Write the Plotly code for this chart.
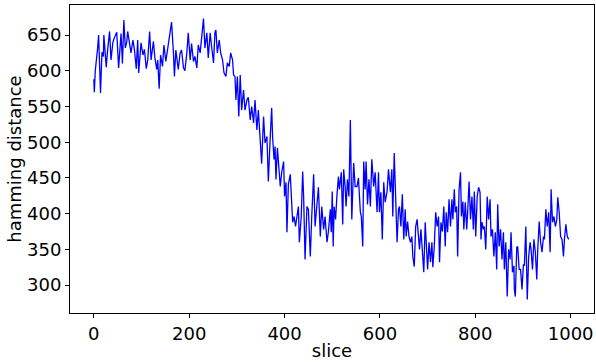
import plotly.graph_objects as go

slice_idx = [
    0, 1, 3, 6, 8, 10, 12, 14, 17, 20, 21, 24, 26, 29, 33, 36, 40, 43, 48, 52, 55, 57, 60, 63, 66, 69, 71, 75, 78, 82, 85, 89, 92, 94, 97, 99, 103, 106, 110, 113, 117, 120,
    125, 128, 132, 134, 137, 140, 144, 147, 151, 156, 160, 163, 167, 169, 172, 177, 181, 184, 188, 191, 195, 198, 202, 205, 209, 212, 216, 219, 223, 226, 230, 233, 237, 240, 244,
    247, 251, 254, 256, 259, 263, 266, 270, 273, 277, 280, 284, 287, 291, 293, 296, 298, 301, 304, 307, 310, 314, 317, 321, 324, 328, 331, 335, 338, 342, 345, 349, 352, 356, 359, 363, 366, 370, 373,
    375, 378, 380, 382, 385, 388, 391, 394, 398, 400, 403, 405, 408, 412, 414, 417, 420, 423, 426, 429, 431, 435, 438, 440, 443, 447, 450, 454, 457, 461, 464, 468, 471, 475, 478, 482, 485, 489, 492,
    496, 498, 500, 502, 504, 507, 510, 513, 515, 519, 522, 524, 527, 529, 532, 535, 538, 541, 545, 548, 552, 555, 559, 561, 564, 566, 569, 571, 574, 577, 580, 583, 587, 590, 594, 597, 599, 602, 605, 608, 611, 615, 618,
    622, 625, 627, 630, 633, 636, 639, 641, 644, 647, 650, 653, 655, 658, 661, 664, 667, 669, 672, 675, 678, 681, 683, 686, 689, 692, 695, 697, 700, 703, 706, 709, 711, 714, 717, 720, 723, 725, 728, 731, 734, 737, 739, 742, 745, 748, 751, 753,
    756, 758, 761, 763, 766, 769, 771, 774, 776, 779, 782, 784, 787, 790, 793, 796, 798, 801, 804, 807, 810, 812, 814, 817, 819, 822, 825, 828, 831, 833, 836, 839, 842, 845, 847, 850, 853, 856, 859, 861, 864, 867, 870, 873, 875, 878, 881,
    882, 884, 887, 889, 892, 895, 898, 901, 903, 906, 909, 912, 915, 917, 920, 923, 926, 929, 931, 934, 937, 940, 943, 945, 948, 951, 954, 957, 959, 962, 965, 968, 971, 973, 976, 979, 982, 985, 987, 990, 993, 996, 999,
]

hamming = [
    588, 570, 600, 615, 632, 650, 610, 569, 626, 620, 650, 625, 605, 630, 655, 615, 640, 646, 654, 604, 630, 652, 610, 671, 632, 640, 655, 639, 625, 643, 630, 603, 643, 597, 625, 639, 622, 630, 603, 615, 655, 615,
    641, 618, 602, 615, 575, 622, 606, 636, 613, 634, 657, 668, 625, 592, 629, 602, 625, 629, 604, 600, 625, 653, 615, 638, 613, 620, 604, 636, 625, 648, 673, 632, 653, 618, 653,
    634, 611, 654, 657, 625, 643, 625, 615, 597, 592, 611, 606, 625, 615, 594, 592, 559, 592, 536, 594, 545, 573, 545, 559, 563, 531, 550, 527, 559, 517, 545, 499, 470, 536, 499, 508, 445, 508, 548,
    506, 476, 494, 448, 492, 458, 438, 458, 473, 424, 444, 374, 441, 455, 424, 388, 396, 382, 396, 410, 360, 396, 459, 424, 336, 410, 406, 340, 396, 455, 382, 420, 437, 368, 410, 378, 396, 360, 375,
    406, 374, 431, 354, 410, 392, 427, 452, 434, 458, 385, 462, 438, 410, 448, 424, 531, 392, 471, 438, 438, 450, 402, 396, 354, 473, 434, 473, 413, 448, 410, 476, 438, 458, 402, 458, 402, 430, 364, 444, 416, 431, 462,
    430, 462, 396, 485, 420, 360, 406, 410, 382, 427, 364, 406, 368, 389, 368, 360, 368, 340, 326, 382, 392, 364, 350, 378, 346, 318, 388, 354, 322, 360, 332, 360, 325, 354, 402, 382, 396, 332, 388, 375, 410, 354, 402, 374, 420, 382, 420, 392,
    434, 402, 410, 340, 434, 458, 396, 417, 378, 416, 378, 402, 445, 392, 424, 378, 431, 368, 424, 437, 430, 364, 388, 378, 382, 350, 424, 392, 420, 368, 378, 340, 374, 322, 413, 354, 378, 336, 374, 322, 360, 284, 350, 336, 374, 318,
    327, 294, 284, 353, 354, 322, 322, 294, 329, 327, 382, 280, 340, 360, 350, 322, 364, 346, 308, 350, 389, 360, 346, 368, 364, 406, 382, 402, 346, 434, 388, 396, 382, 392, 423, 402, 368, 364, 340, 364, 385, 368, 364,
]

x_ticks = [0, 200, 400, 600, 800, 1000]
y_ticks = [300, 350, 400, 450, 500, 550, 600, 650]

FONT = "DejaVu Sans"
FS = 18

fig = go.Figure(
    go.Scatter(
        x=slice_idx,
        y=hamming,
        mode="lines",
        line=dict(color="#0000ff", width=1.3),
        showlegend=False,
    )
)

axis_common = dict(
    showline=True,
    linecolor="#000000",
    linewidth=1,
    mirror=True,
    showgrid=False,
    zeroline=False,
    ticks="outside",
    ticklen=4,
    tickwidth=1,
    tickcolor="#000000",
    tickfont=dict(family=FONT, size=FS, color="#000000"),
)

fig.update_layout(
    width=596,
    height=362,
    margin=dict(l=70, r=2, t=5, b=49),
    paper_bgcolor="white",
    plot_bgcolor="white",
    font=dict(family=FONT, size=FS, color="#000000"),
    xaxis=dict(
        range=[-50, 1049],
        tickvals=x_ticks,
        ticktext=[str(v) for v in x_ticks],
        title=dict(text="slice", font=dict(family=FONT, size=FS), standoff=1),
        **axis_common,
    ),
    yaxis=dict(
        range=[261, 692],
        tickvals=y_ticks,
        ticktext=[str(v) for v in y_ticks],
        title=dict(text="hamming distance", font=dict(family=FONT, size=FS), standoff=0),
        **axis_common,
    ),
)

fig.write_html("out.html")
